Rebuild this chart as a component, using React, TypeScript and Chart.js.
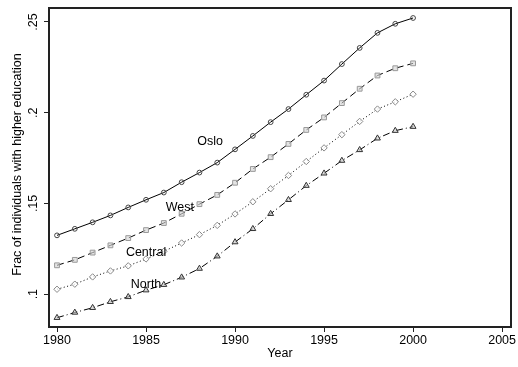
import React, { useEffect, useRef } from "react";
import { Chart, registerables } from "chart.js";

Chart.register(...registerables);

const years = [1980, 1981, 1982, 1983, 1984, 1985, 1986, 1987, 1988, 1989, 1990, 1991, 1992, 1993, 1994, 1995, 1996, 1997, 1998, 1999, 2000];
const oslo = [0.1324, 0.136, 0.1396, 0.1434, 0.1478, 0.152, 0.156, 0.1617, 0.167, 0.1725, 0.1798, 0.1872, 0.1948, 0.202, 0.2099, 0.2177, 0.2268, 0.2357, 0.244, 0.249, 0.2522];
const west = [0.1159, 0.1189, 0.1229, 0.1269, 0.1309, 0.1353, 0.1392, 0.1443, 0.1496, 0.1547, 0.1614, 0.169, 0.1755, 0.1828, 0.1905, 0.1974, 0.2053, 0.2132, 0.2205, 0.2245, 0.2272];
const central = [0.1027, 0.1055, 0.1095, 0.1128, 0.1156, 0.1194, 0.1236, 0.1282, 0.1328, 0.1379, 0.1442, 0.1509, 0.1581, 0.1654, 0.1731, 0.1806, 0.1879, 0.1952, 0.202, 0.206, 0.2102];
const north = [0.087, 0.0899, 0.0925, 0.0958, 0.0985, 0.1022, 0.1052, 0.1093, 0.1141, 0.1209, 0.1287, 0.136, 0.1443, 0.152, 0.1598, 0.1666, 0.1736, 0.1795, 0.1859, 0.1901, 0.1923];

const xTicks = [1980, 1985, 1990, 1995, 2000, 2005];
const yTicks = [0.1, 0.15, 0.2, 0.25];
const yTickLabels = [".1", ".15", ".2", ".25"];

const seriesNames = ["Oslo", "West", "Central", "North"];
const labelYears = [1988.6, 1986.9, 1985.0, 1985.0];
const labelValues = [0.184, 0.1478, 0.123, 0.1055];

const FONT = "'Liberation Sans', Arial, Helvetica, sans-serif";

function toPoints(vals: number[]) {
  return years.map((yr, i) => ({ x: yr, y: vals[i] }));
}

export default function App() {
  const ref = useRef<HTMLCanvasElement | null>(null);

  useEffect(() => {
    document.body.style.margin = "0";
    const canvas = ref.current;
    if (!canvas) return;

    const textPlugin = {
      id: "stataText",
      afterDraw(chart: any) {
        const ctx = chart.ctx as CanvasRenderingContext2D;
        const area = chart.chartArea;
        const xs = chart.scales.x;
        const ys = chart.scales.y;
        ctx.save();
        ctx.strokeStyle = "#222";
        ctx.lineWidth = 2;
        ctx.strokeRect(area.left, area.top, area.right - area.left, area.bottom - area.top);
        ctx.fillStyle = "#000";
        ctx.font = `12.5px ${FONT}`;
        yTicks.forEach((v, i) => {
          const py = ys.getPixelForValue(v);
          ctx.save();
          ctx.translate(area.left - 15, py);
          ctx.rotate(-Math.PI / 2);
          ctx.textAlign = "center";
          ctx.textBaseline = "middle";
          ctx.fillText(yTickLabels[i], 0, 0);
          ctx.restore();
        });
        ctx.save();
        ctx.translate(area.left - 31, (area.top + area.bottom) / 2 - 3);
        ctx.rotate(-Math.PI / 2);
        ctx.textAlign = "center";
        ctx.textBaseline = "middle";
        ctx.fillText("Frac of individuals with higher education", 0, 0);
        ctx.restore();
        ctx.textAlign = "center";
        ctx.textBaseline = "middle";
        ctx.fillText("Year", (area.left + area.right) / 2, area.bottom + 27);
        seriesNames.forEach((name, i) => {
          ctx.fillText(name, xs.getPixelForValue(labelYears[i]), ys.getPixelForValue(labelValues[i]));
        });
        ctx.restore();
      },
    };

    const chart = new Chart(canvas, {
      type: "line",
      data: {
        datasets: [
          {
            label: "Oslo",
            data: toPoints(oslo),
            borderColor: "#000",
            borderWidth: 1,
            pointStyle: "circle",
            pointRadius: 2.4,
            pointBorderColor: "#444",
            pointBackgroundColor: "rgba(255,255,255,0)",
            pointBorderWidth: 1,
          },
          {
            label: "West",
            data: toPoints(west),
            borderColor: "#000",
            borderWidth: 1,
            borderDash: [7, 4],
            pointStyle: "rect",
            pointRadius: 3.4,
            pointBorderColor: "#999",
            pointBackgroundColor: "rgba(210,210,210,0.6)",
            pointBorderWidth: 1,
          },
          {
            label: "Central",
            data: toPoints(central),
            borderColor: "#000",
            borderWidth: 1,
            borderDash: [1, 2.5],
            pointStyle: "rectRot",
            pointRadius: 3.2,
            pointBorderColor: "#888",
            pointBackgroundColor: "rgba(255,255,255,0.8)",
            pointBorderWidth: 1,
          },
          {
            label: "North",
            data: toPoints(north),
            borderColor: "#000",
            borderWidth: 1,
            borderDash: [7, 3, 1, 3],
            pointStyle: "triangle",
            pointRadius: 3.4,
            pointBorderColor: "#333",
            pointBackgroundColor: "rgba(200,200,200,0.6)",
            pointBorderWidth: 1,
          },
        ],
      },
      options: {
        responsive: false,
        animation: false,
        events: [],
        layout: { padding: { top: 8, right: 7, left: 0, bottom: 0 } },
        plugins: { legend: { display: false }, tooltip: { enabled: false } },
        elements: { line: { tension: 0 } },
        scales: {
          x: {
            type: "linear",
            min: 1979.55,
            max: 2005.5,
            afterBuildTicks: (s: any) => {
              s.ticks = xTicks.map((v) => ({ value: v }));
            },
            afterFit: (s: any) => {
              s.height = 40;
            },
            ticks: {
              color: "#000",
              font: { family: FONT, size: 12.5 },
              padding: 1,
              maxRotation: 0,
              callback: (v: any) => String(v),
            },
            grid: {
              display: true,
              drawOnChartArea: false,
              drawTicks: true,
              tickLength: 5,
              color: "#222",
              lineWidth: 1,
            },
            border: { display: false },
          },
          y: {
            type: "linear",
            min: 0.0819,
            max: 0.2577,
            afterBuildTicks: (s: any) => {
              s.ticks = yTicks.map((v) => ({ value: v }));
            },
            afterFit: (s: any) => {
              s.width = 49;
            },
            ticks: { display: false },
            grid: {
              display: true,
              drawOnChartArea: false,
              drawTicks: true,
              tickLength: 5,
              color: "#222",
              lineWidth: 1,
            },
            border: { display: false },
          },
        },
      },
      plugins: [textPlugin],
    });

    return () => chart.destroy();
  }, []);

  return (
    <div style={{ width: 518, height: 367 }}>
      <canvas ref={ref} width={518} height={367} style={{ display: "block" }} />
    </div>
  );
}
